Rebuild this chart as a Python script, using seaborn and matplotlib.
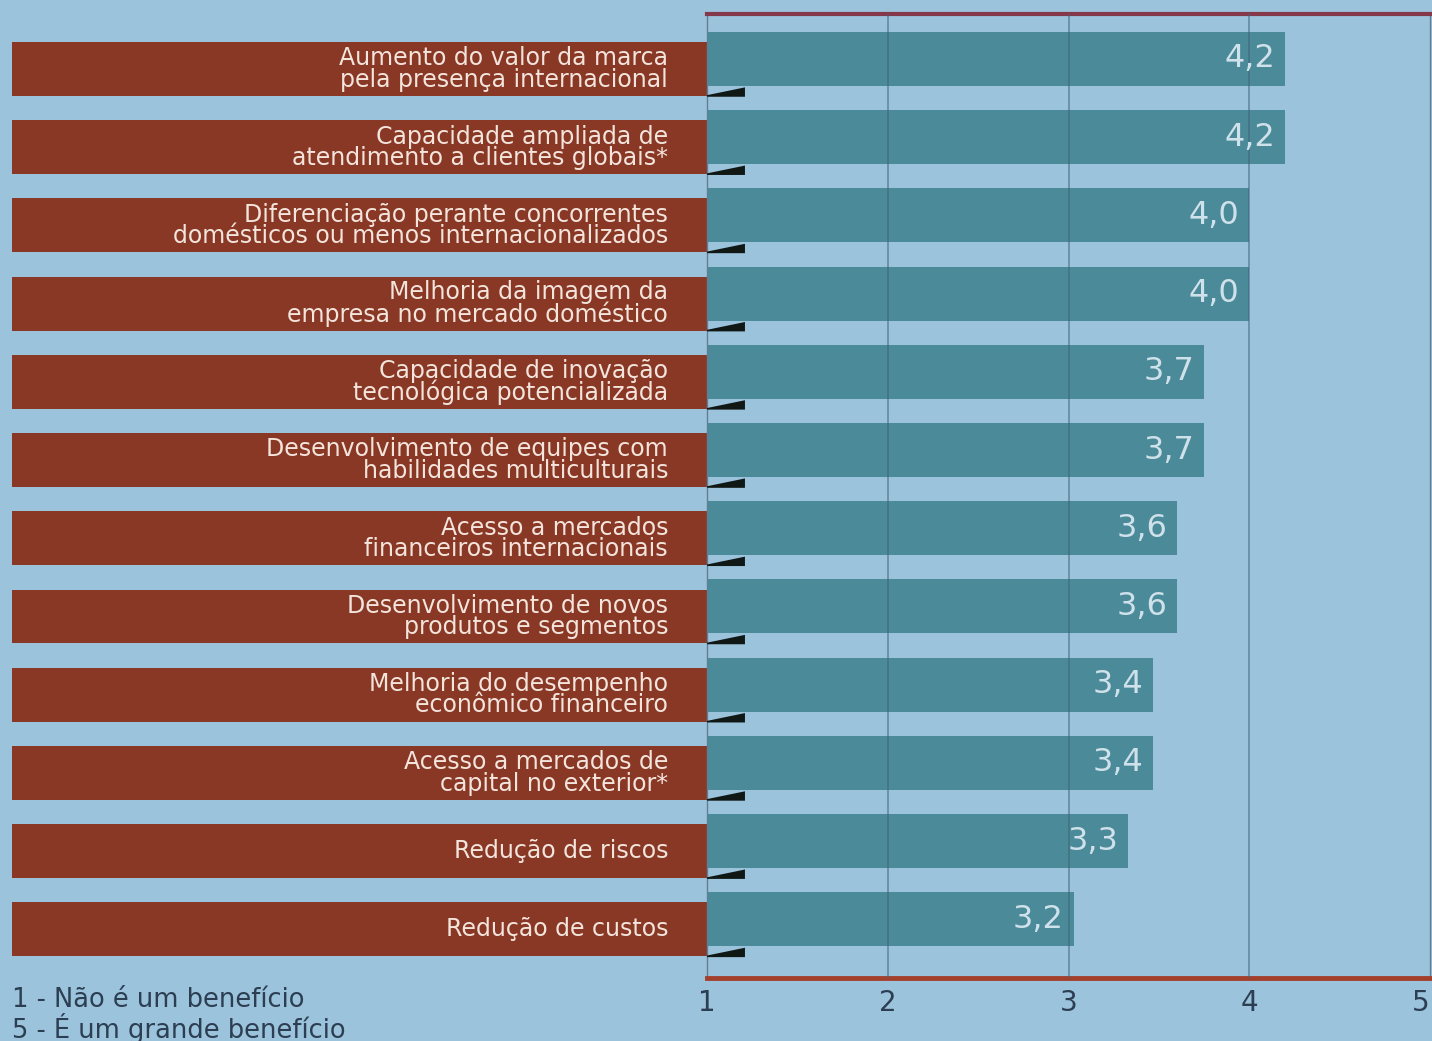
import numpy as np
import pandas as pd
import matplotlib
matplotlib.use("Agg")
import matplotlib.pyplot as plt
import seaborn as sns

categories = [
    "Aumento do valor da marca\npela presença internacional",
    "Capacidade ampliada de\natendimento a clientes globais*",
    "Diferenciação perante concorrentes\ndomésticos ou menos internacionalizados",
    "Melhoria da imagem da\nempresa no mercado doméstico",
    "Capacidade de inovação\ntecnológica potencializada",
    "Desenvolvimento de equipes com\nhabilidades multiculturais",
    "Acesso a mercados\nfinanceiros internacionais",
    "Desenvolvimento de novos\nprodutos e segmentos",
    "Melhoria do desempenho\neconômico financeiro",
    "Acesso a mercados de\ncapital no exterior*",
    "Redução de riscos",
    "Redução de custos",
]
bar_lengths = [4.2, 4.2, 4.0, 4.0, 3.75, 3.75, 3.6, 3.6, 3.47, 3.47, 3.33, 3.03]
value_labels = ["4,2", "4,2", "4,0", "4,0", "3,7", "3,7", "3,6", "3,6", "3,4", "3,4", "3,3", "3,2"]
x_ticks = [1, 2, 3, 4, 5]
legend_lines = ["1 - Não é um benefício", "5 - É um grande benefício"]

BG = "#9cc3dc"
TEAL = "#4b8a98"
RED = "#8a3826"
DARK = "#2c3e52"

sns.set_theme(style="white")
plt.rcParams["font.family"] = ["DejaVu Sans"]

fig = plt.figure(figsize=(14.32, 10.41), dpi=100)
fig.patch.set_facecolor(BG)

W, H = 1432.0, 1041.0
ax_left = 707 / W
ax_right = 1430 / W
ax_bottom = 1 - 978 / H
ax_top = 1 - 14 / H
ylims = (11.75, -0.575)

# left panel for red label bands
axl = fig.add_axes([12 / W, ax_bottom, (707 - 12) / W, ax_top - ax_bottom])
axl.set_xlim(0, 1)
axl.set_ylim(*ylims)
axl.axis("off")
n = len(categories)
ypos = np.arange(n)
axl.barh(ypos + 0.128, width=1.0, left=0, height=0.69, color=RED, edgecolor="none")
for i, lab in enumerate(categories):
    axl.text(0.944, i + 0.128, lab, ha="right", va="center", color="#f3e4dc",
             fontsize=17, linespacing=0.86, multialignment="right")

# main axes
ax = fig.add_axes([ax_left, ax_bottom, ax_right - ax_left, ax_top - ax_bottom])
ax.set_facecolor(BG)
df = pd.DataFrame({"cat": categories, "val": bar_lengths})
sns.barplot(data=df, x="val", y="cat", orient="h", color=TEAL, saturation=1,
            width=0.69, ax=ax, zorder=2, edgecolor="none", linewidth=0)
ax.set_xlim(1, 5)
ax.set_ylim(*ylims)
ax.set_xlabel("")
ax.set_ylabel("")
ax.set_yticks([])
ax.set_xticks(x_ticks)
ax.set_xticklabels([str(t) for t in x_ticks], fontsize=20, color=DARK)
ax.get_xticklabels()[-1].set_horizontalalignment("right")
ax.tick_params(axis="x", direction="out", length=6, width=3, color="#3a3030", pad=2)

for gx in [2, 3, 4]:
    ax.axvline(gx, color="#3f6478", lw=1.2, alpha=0.6, zorder=3)

for s in ["left", "right"]:
    ax.spines[s].set_color("#5f7f94")
    ax.spines[s].set_linewidth(1)
ax.spines["top"].set_color("#85384a")
ax.spines["top"].set_linewidth(3)
ax.spines["bottom"].set_color("#a3402c")
ax.spines["bottom"].set_linewidth(3.5)

# value labels and small shadow tabs
for i, (v, lab) in enumerate(zip(bar_lengths, value_labels)):
    ax.text(v - 0.055, i, lab, ha="right", va="center", fontsize=23,
            color="#cfe1ea", zorder=4)
    b = i + 0.128 + 0.345
    ax.fill([1.0, 1.21, 1.21, 1.0], [b - 0.01, b - 0.11, b + 0.01, b + 0.01],
            color="#101816", zorder=3, clip_on=False, lw=0)

for k, line in enumerate(legend_lines):
    fig.text(12 / W, 1 - (1000 + 28 * k) / H, line, ha="left", va="center",
             fontsize=18.5, color=DARK)

fig.savefig("out.png", dpi=100, facecolor=BG)
